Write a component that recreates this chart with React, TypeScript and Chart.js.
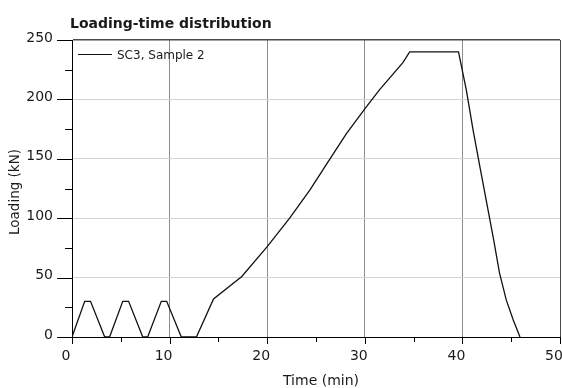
import React, { useEffect, useRef } from "react";
import { Chart, registerables } from "chart.js";

Chart.register(...registerables);

// Load history of specimen SC3, sample 2: three small pre-load cycles,
// then a ramp up to the 240 kN hold and unloading.
const timeMin: number[] = [
  0, 1.3, 1.9, 3.35, 3.85, 5.2, 5.8, 7.25, 7.75, 9.15, 9.7, 11.2, 12.75,
  14.5, 17.4, 20, 22.3, 24.4, 26.2, 28.1, 30, 31.5, 33.9, 34.6,
  39.6, 40.4, 41.1, 41.8, 42.5, 43.2, 43.8, 44.5, 45.2, 45.9,
];
const loadingKN: number[] = [
  0, 30, 30, 0, 0, 30, 30, 0, 0, 30, 30, 0, 0,
  32, 51, 76, 100, 124, 147, 171, 192, 208, 231, 240,
  240, 208, 174, 143, 112.5, 82, 54, 31, 14.5, 0,
];

const seriesLabel = "SC3, Sample 2";
const chartTitle = "Loading-time distribution";
const xTitle = "Time (min)";
const yTitle = "Loading (kN)";

const xTicks: number[] = [0, 10, 20, 30, 40, 50];
const yTicks: number[] = [0, 50, 100, 150, 200, 250];

const FONT = "'DejaVu Sans', sans-serif";
const TEXT = "#1a1a1a";

// Tick marks (major + minor), chart title, axis titles and the in-plot legend
const decorPlugin = {
  id: "decor",
  afterDraw(chart: any) {
    const { ctx, chartArea, scales } = chart;
    const xs = scales.x;
    const ys = scales.y;
    ctx.save();
    ctx.strokeStyle = "#000";
    ctx.lineWidth = 1;

    // x-axis ticks every 5 min, pointing down
    for (let v = 0; v <= 50; v += 5) {
      const px = Math.round(xs.getPixelForValue(v)) + 0.5;
      const len = v % 10 === 0 ? 7 : 5;
      ctx.beginPath();
      ctx.moveTo(px, chartArea.bottom);
      ctx.lineTo(px, chartArea.bottom + len);
      ctx.stroke();
    }
    // y-axis ticks every 25 kN, pointing left
    for (let v = 0; v <= 250; v += 25) {
      const py = Math.round(ys.getPixelForValue(v)) + 0.5;
      const len = v % 50 === 0 ? 15 : 7;
      ctx.beginPath();
      ctx.moveTo(chartArea.left, py);
      ctx.lineTo(chartArea.left - len, py);
      ctx.stroke();
    }

    // Chart title
    ctx.fillStyle = TEXT;
    ctx.font = `bold 14px ${FONT}`;
    ctx.textAlign = "left";
    ctx.textBaseline = "alphabetic";
    ctx.fillText(chartTitle, 70, 28);

    // Axis titles
    ctx.font = `14px ${FONT}`;
    ctx.textAlign = "center";
    ctx.fillText(xTitle, 321, 385);
    ctx.save();
    ctx.translate(19, 192);
    ctx.rotate(-Math.PI / 2);
    ctx.font = `13.5px ${FONT}`;
    ctx.fillText(yTitle, 0, 0);
    ctx.restore();

    // Legend
    ctx.strokeStyle = "#111";
    ctx.lineWidth = 1.2;
    ctx.beginPath();
    ctx.moveTo(chartArea.left + 6, 54.5);
    ctx.lineTo(chartArea.left + 40, 54.5);
    ctx.stroke();
    ctx.font = `12px ${FONT}`;
    ctx.textAlign = "left";
    ctx.fillText(seriesLabel, chartArea.left + 45, 59);

    ctx.restore();
  },
};

export default function App() {
  const canvasRef = useRef<HTMLCanvasElement | null>(null);

  useEffect(() => {
    document.body.style.margin = "0";
    const canvas = canvasRef.current;
    if (!canvas) return;

    const points = timeMin.map((t, i) => ({ x: t, y: loadingKN[i] }));

    const chart = new Chart(canvas, {
      type: "line",
      data: {
        datasets: [
          {
            label: seriesLabel,
            data: points,
            borderColor: "#111",
            borderWidth: 1.3,
            pointRadius: 0,
            tension: 0,
            fill: false,
          },
        ],
      },
      options: {
        responsive: false,
        animation: false,
        layout: { padding: { top: 40, right: 2, left: 0, bottom: 0 } },
        plugins: {
          legend: { display: false },
          title: { display: false },
          tooltip: { enabled: false },
        },
        scales: {
          x: {
            type: "linear",
            min: 0,
            max: 50,
            afterBuildTicks: (scale: any) => {
              scale.ticks = xTicks.map((v) => ({ value: v }));
            },
            afterFit: (scale: any) => {
              scale.height = 51;
              scale.paddingLeft = 0;
              scale.paddingRight = 0;
            },
            grid: {
              drawTicks: false,
              lineWidth: 1,
              color: (c: any) => {
                const v = c.tick ? c.tick.value : 0;
                if (v === 0) return "#000";
                if (v === 50) return "#4a4a4a";
                return "#8c8c8c";
              },
            },
            border: { display: true, color: "#000", width: 1 },
            ticks: {
              padding: 11,
              labelOffset: -6,
              maxRotation: 0,
              color: TEXT,
              font: { family: FONT, size: 14 },
            },
          },
          y: {
            type: "linear",
            min: 0,
            max: 250,
            afterBuildTicks: (scale: any) => {
              scale.ticks = yTicks.map((v) => ({ value: v }));
            },
            afterFit: (scale: any) => {
              scale.width = 72;
              scale.paddingTop = 0;
              scale.paddingBottom = 0;
            },
            grid: {
              drawTicks: false,
              lineWidth: (c: any) => (c.tick && c.tick.value === 250 ? 1.6 : 1),
              color: (c: any) => {
                const v = c.tick ? c.tick.value : 0;
                if (v === 0) return "#000";
                if (v === 250) return "#4a4a4a";
                return "#d4d4d4";
              },
            },
            border: { display: true, color: "#000", width: 1 },
            ticks: {
              padding: 19,
              labelOffset: -2,
              color: TEXT,
              font: { family: FONT, size: 14 },
            },
          },
        },
      },
      plugins: [decorPlugin],
    });

    return () => chart.destroy();
  }, []);

  return (
    <div style={{ width: 562, height: 388, background: "#fff" }}>
      <canvas ref={canvasRef} width={562} height={388} style={{ display: "block" }} />
    </div>
  );
}
